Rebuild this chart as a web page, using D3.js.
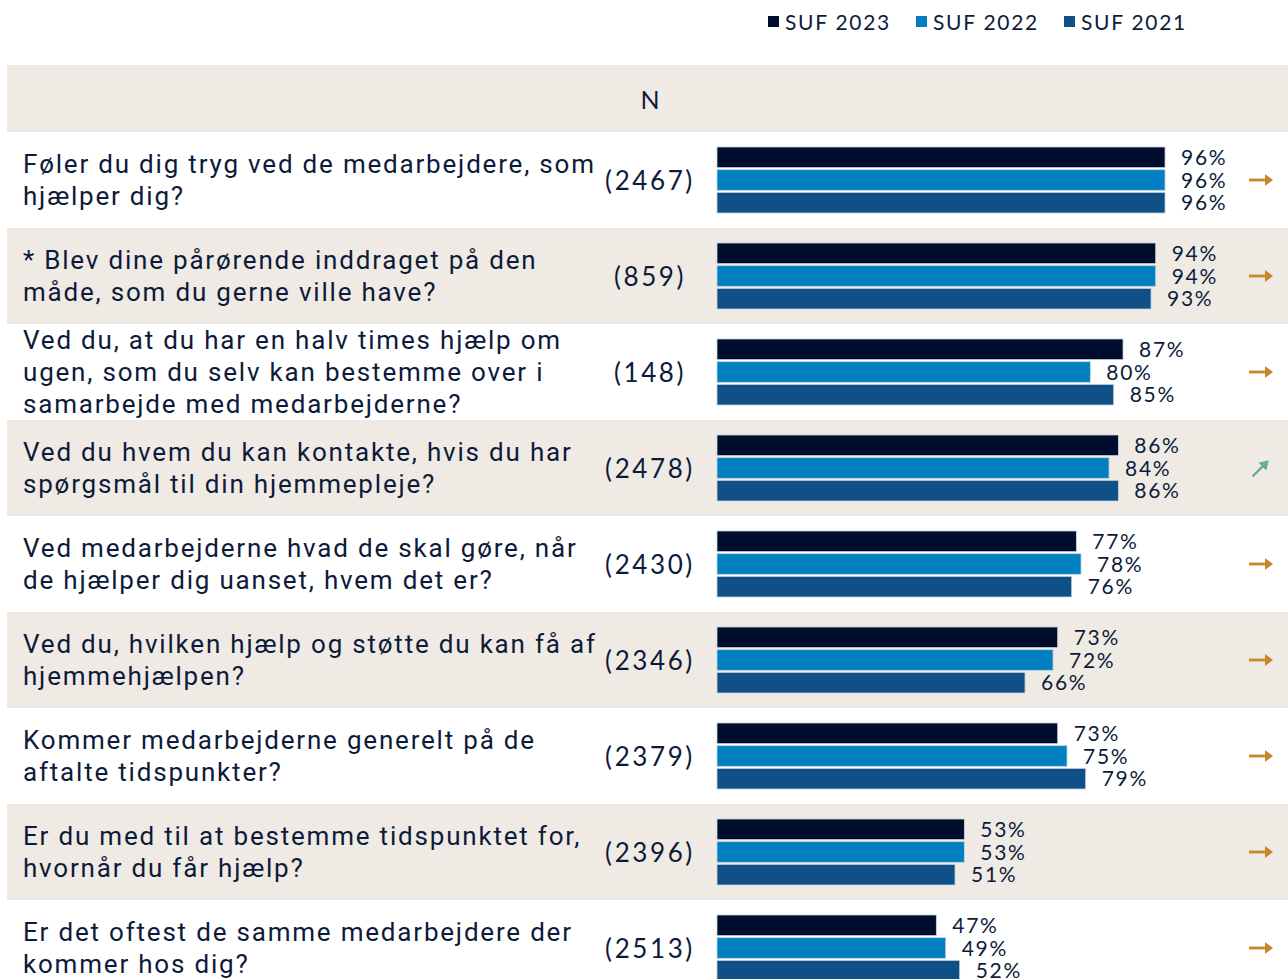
<!DOCTYPE html>
<html><head><meta charset="utf-8">
<script src="https://cdn.jsdelivr.net/npm/d3@7"></script>
<style>html,body{margin:0;padding:0;background:#fff;}</style>
</head><body>
<svg id="chart" width="1288" height="979"></svg>
<script>
const questions = [
  ["Føler du dig tryg ved de medarbejdere, som", "hjælper dig?"],
  ["* Blev dine pårørende inddraget på den", "måde, som du gerne ville have?"],
  ["Ved du, at du har en halv times hjælp om", "ugen, som du selv kan bestemme over i", "samarbejde med medarbejderne?"],
  ["Ved du hvem du kan kontakte, hvis du har", "spørgsmål til din hjemmepleje?"],
  ["Ved medarbejderne hvad de skal gøre, når", "de hjælper dig uanset, hvem det er?"],
  ["Ved du, hvilken hjælp og støtte du kan få af", "hjemmehjælpen?"],
  ["Kommer medarbejderne generelt på de", "aftalte tidspunkter?"],
  ["Er du med til at bestemme tidspunktet for,", "hvornår du får hjælp?"],
  ["Er det oftest de samme medarbejdere der", "kommer hos dig?"]
];
const nValues = [2467, 859, 148, 2478, 2430, 2346, 2379, 2396, 2513];
const series = ["SUF 2023", "SUF 2022", "SUF 2021"];
const suf2023 = [96, 94, 87, 86, 77, 73, 73, 53, 47];
const suf2022 = [96, 94, 80, 84, 78, 72, 75, 53, 49];
const suf2021 = [96, 93, 85, 86, 76, 66, 79, 51, 52];
const trends = ["flat", "flat", "flat", "up", "flat", "flat", "flat", "flat", "flat"];

const colors = ["#010d2d", "#0080c1", "#0f5086"];
const textColor = "#0d1b3a";
const beige = "#efebe4";
const svg = d3.select("#chart");

const rowY = d3.scaleBand().domain(d3.range(questions.length)).range([132, 132 + 96 * questions.length]).padding(0);
const x = d3.scaleLinear().domain([0, 100]).range([717, 717 + 466.7]);
const sub = d3.scaleBand().domain(series).range([0, 66]).paddingInner(0.09).paddingOuter(0);

// header band
svg.append("rect").attr("x", 7).attr("y", 65).attr("width", 1281).attr("height", 67).attr("fill", beige);
svg.append("text").attr("x", 650).attr("y", 99).attr("text-anchor", "middle").attr("dominant-baseline", "central")
  .attr("font-family", "Lato, sans-serif").attr("font-size", 25).attr("fill", textColor).text("N");

// legend
const legX = [768, 916, 1064];
series.forEach((s, i) => {
  svg.append("rect").attr("x", legX[i]).attr("y", 16).attr("width", 11).attr("height", 11).attr("fill", colors[i]);
  svg.append("text").attr("x", legX[i] + 17).attr("y", 21).attr("dominant-baseline", "central")
    .attr("font-family", "Lato, sans-serif").attr("font-size", 21).attr("letter-spacing", 1.7).attr("fill", textColor).text(s);
});

const data = [suf2023, suf2022, suf2021];
questions.forEach((q, i) => {
  const y0 = rowY(i);
  const cy = y0 + rowY.bandwidth() / 2;
  if (i % 2 === 1) svg.append("rect").attr("x", 7).attr("y", y0).attr("width", 1281).attr("height", rowY.bandwidth()).attr("fill", beige);
  const t = svg.append("text").attr("font-family", "Roboto, sans-serif").attr("font-size", 26).attr("letter-spacing", 1.8)
    .attr("fill", textColor);
  q.forEach((line, j) => {
    t.append("tspan").attr("x", 23).attr("y", cy + (j - (q.length - 1) / 2) * 32).attr("dominant-baseline", "central").text(line);
  });
  svg.append("text").attr("x", 650).attr("y", cy).attr("text-anchor", "middle").attr("dominant-baseline", "central")
    .attr("font-family", "Lato, sans-serif").attr("font-size", 26).attr("letter-spacing", 2.6).attr("fill", textColor)
    .text("(" + nValues[i] + ")");
  const top = cy - 33;
  series.forEach((s, k) => {
    const v = data[k][i];
    svg.append("rect").attr("x", x(0)).attr("y", top + sub(s)).attr("width", x(v) - x(0)).attr("height", sub.bandwidth())
      .attr("fill", colors[k]).attr("stroke", "#c9d3e0").attr("stroke-width", 0.8);
    svg.append("text").attr("x", x(v) + 16).attr("y", top + sub(s) + sub.bandwidth() / 2 - 1).attr("dominant-baseline", "central")
      .attr("font-family", "Lato, sans-serif").attr("font-size", 21).attr("letter-spacing", 1.7).attr("fill", textColor)
      .text(v + "%");
  });
  // trend arrow
  const ag = svg.append("g").attr("transform", `translate(1261,${cy})`);
  if (trends[i] === "flat") {
    ag.append("line").attr("x1", -12).attr("x2", 6).attr("y1", 0).attr("y2", 0).attr("stroke", "#c8862b").attr("stroke-width", 2.8);
    ag.append("path").attr("d", "M4,-6 L12,0 L4,6 Z").attr("fill", "#c8862b");
  } else {
    ag.append("g").attr("transform", "rotate(-45)").call(g => {
      g.append("line").attr("x1", -12).attr("x2", 4).attr("y1", 0).attr("y2", 0).attr("stroke", "#6aab9b").attr("stroke-width", 2.4);
      g.append("path").attr("d", "M2,-5.5 L11,0 L2,5.5 Z").attr("fill", "#6aab9b");
    });
  }
});
</script>
</body></html>
